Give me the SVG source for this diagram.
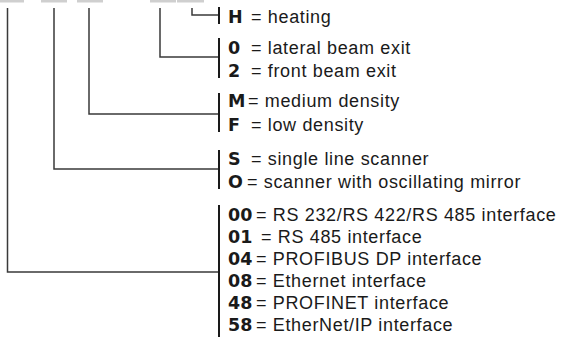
<svg xmlns="http://www.w3.org/2000/svg" width="563" height="338" viewBox="0 0 563 338">
<style>
.tab{fill:#cfcfcf}
.ln{stroke:#3a3a3a;stroke-width:1.5;fill:none}
.bar{stroke:#1a1a1a;stroke-width:2;fill:none}
.code{font-family:"DejaVu Sans","Liberation Sans",sans-serif;font-weight:bold;font-size:17.5px;fill:#1a1a1a}
.desc{font-family:"Liberation Sans",Arial,sans-serif;font-size:18px;fill:#1a1a1a;letter-spacing:0.65px}
</style>
<rect width="563" height="338" fill="#ffffff"/>
<g id="tabs">
<rect class="tab" x="0" y="0" width="24" height="2.5"/>
<rect class="tab" x="41" y="0" width="26" height="2.5"/>
<rect class="tab" x="77" y="0" width="26" height="2.5"/>
<rect class="tab" x="150" y="0" width="26" height="2.5"/>
<rect class="tab" x="177" y="0" width="27" height="2.5"/>
</g>
<g id="connectors">
<path class="ln" d="M7.5 8 V272 H219"/>
<path class="ln" d="M54 8 V169 H219"/>
<path class="ln" d="M89 8 V114 H219"/>
<path class="ln" d="M160 8 V57 H219"/>
<path class="ln" d="M192 8 V15 H219"/>
</g>
<g id="heating">
<path class="bar" d="M219 7 V24"/>
<text class="code" x="228" y="23">H</text>
<text class="desc" x="251" y="23">= heating</text>
</g>
<g id="beam-exit">
<path class="bar" d="M219 38 V78"/>
<text class="code" x="228" y="54">0</text>
<text class="desc" x="251" y="54">= lateral beam exit</text>
<text class="code" x="228" y="77">2</text>
<text class="desc" x="251" y="77">= front beam exit</text>
</g>
<g id="density">
<path class="bar" d="M219 93 V132"/>
<text class="code" x="228" y="107">M</text>
<text class="desc" x="248" y="107">= medium density</text>
<text class="code" x="228" y="131">F</text>
<text class="desc" x="251" y="131">= low density</text>
</g>
<g id="scanner">
<path class="bar" d="M219 150 V189"/>
<text class="code" x="228" y="165">S</text>
<text class="desc" x="251" y="165">= single line scanner</text>
<text class="code" x="228" y="188">O</text>
<text class="desc" x="247" y="188">= scanner with oscillating mirror</text>
</g>
<g id="interface">
<path class="bar" d="M219 205 V337"/>
<text class="code" x="228" y="221">00</text>
<text class="desc" x="256" y="221">= RS 232/RS 422/RS 485 interface</text>
<text class="code" x="228" y="243">01</text>
<text class="desc" x="261" y="243">= RS 485 interface</text>
<text class="code" x="228" y="265">04</text>
<text class="desc" x="256" y="265">= PROFIBUS DP interface</text>
<text class="code" x="228" y="287">08</text>
<text class="desc" x="256" y="287">= Ethernet interface</text>
<text class="code" x="228" y="309">48</text>
<text class="desc" x="256" y="309">= PROFINET interface</text>
<text class="code" x="228" y="331">58</text>
<text class="desc" x="256" y="331">= EtherNet/IP interface</text>
</g>
</svg>
